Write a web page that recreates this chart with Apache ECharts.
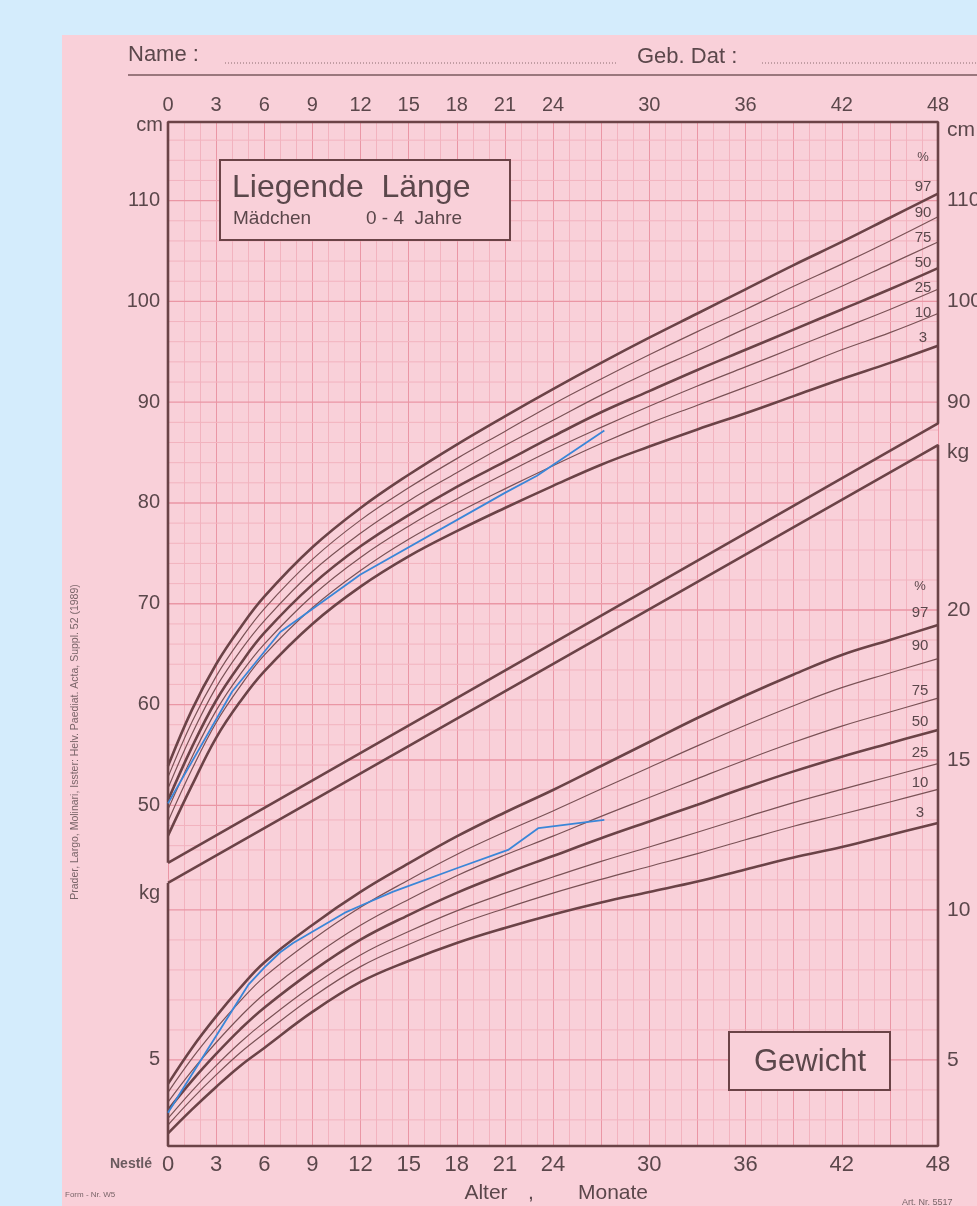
<!DOCTYPE html>
<html><head><meta charset="utf-8">
<script src="https://cdn.jsdelivr.net/npm/echarts@6/dist/echarts.min.js"></script>
<style>
html,body{margin:0;padding:0;background:#d4ecfc;width:977px;height:1206px;overflow:hidden}
#paper{position:absolute;left:62px;top:35px;width:915px;height:1171px;background:#f9d0d9}
#chart{position:absolute;left:0;top:0;width:977px;height:1206px}
</style></head><body>
<div id="paper"></div><div id="chart"></div>
<script>
// ---- data ----
const months = [0, 1.5, 3, 4.5, 6, 9, 12, 15, 18, 21, 24, 27, 30, 33, 36, 39, 42, 45, 48];
const percentiles = ['97', '90', '75', '50', '25', '10', '3'];
// Liegende Länge (cm)
const lengthP97 = [53.9, 59.5, 64.0, 67.6, 70.7, 75.6, 79.5, 82.8, 85.8, 88.6, 91.3, 93.9, 96.4, 98.8, 101.2, 103.6, 105.9, 108.3, 110.7];
const lengthP90 = [52.8, 58.3, 62.8, 66.4, 69.5, 74.4, 78.3, 81.5, 84.4, 87.1, 89.8, 92.3, 94.7, 97.0, 99.2, 101.5, 103.7, 106.0, 108.4];
const lengthP75 = [51.7, 57.1, 61.7, 65.3, 68.3, 73.2, 77.0, 80.2, 83.0, 85.7, 88.2, 90.7, 93.0, 95.1, 97.3, 99.4, 101.5, 103.7, 105.9];
const lengthP50 = [50.5, 55.8, 60.4, 64.0, 67.1, 71.9, 75.7, 78.8, 81.6, 84.1, 86.6, 89.0, 91.1, 93.2, 95.2, 97.2, 99.2, 101.2, 103.3];
const lengthP25 = [49.6, 54.8, 59.4, 63.0, 66.0, 70.8, 74.6, 77.7, 80.4, 82.9, 85.3, 87.5, 89.6, 91.6, 93.5, 95.4, 97.3, 99.2, 101.2];
const lengthP10 = [48.4, 53.6, 58.2, 61.8, 64.9, 69.6, 73.3, 76.4, 79.0, 81.4, 83.7, 85.9, 87.9, 89.7, 91.5, 93.3, 95.2, 96.9, 98.8];
const lengthP3  = [47.0, 52.0, 56.7, 60.3, 63.3, 68.0, 71.7, 74.7, 77.2, 79.5, 81.7, 83.8, 85.6, 87.3, 88.9, 90.6, 92.3, 93.9, 95.6];
// Gewicht (kg)
const weightP97 = [4.2, 5.4, 6.45, 7.4, 8.25, 9.5, 10.6, 11.55, 12.45, 13.25, 14.0, 14.8, 15.6, 16.4, 17.15, 17.85, 18.5, 19.0, 19.5];
const weightP90 = [3.92, 5.05, 6.05, 6.96, 7.77, 9.01, 10.09, 11.0, 11.85, 12.6, 13.3, 14.03, 14.75, 15.47, 16.16, 16.81, 17.41, 17.9, 18.38];
const weightP75 = [3.59, 4.64, 5.58, 6.44, 7.2, 8.43, 9.49, 10.35, 11.14, 11.83, 12.46, 13.12, 13.75, 14.38, 15.0, 15.59, 16.13, 16.6, 17.06];
const weightP50 = [3.33, 4.31, 5.2, 6.02, 6.74, 7.96, 9.01, 9.83, 10.57, 11.21, 11.8, 12.39, 12.95, 13.51, 14.08, 14.62, 15.11, 15.56, 16.0];
const weightP25 = [3.05, 3.97, 4.81, 5.58, 6.26, 7.47, 8.5, 9.28, 9.97, 10.56, 11.1, 11.62, 12.1, 12.59, 13.09, 13.58, 14.02, 14.45, 14.88];
const weightP10 = [2.83, 3.7, 4.5, 5.24, 5.88, 7.09, 8.11, 8.85, 9.5, 10.05, 10.56, 11.02, 11.45, 11.88, 12.34, 12.79, 13.19, 13.6, 14.02];
const weightP3  = [2.55, 3.35, 4.1, 4.8, 5.4, 6.6, 7.6, 8.3, 8.9, 9.4, 9.85, 10.25, 10.6, 10.95, 11.35, 11.75, 12.1, 12.5, 12.9];
// patient (blue)
const patientLengthMonths = [0, 4, 7, 12, 21, 23, 27.2];
const patientLength = [50.2, 61.3, 67.2, 72.9, 81.0, 82.7, 87.2];
const patientWeightMonths = [0, 0.85, 5, 6, 7, 7.8, 11, 12, 14, 18, 21.2, 23.1, 27.2];
const patientWeight = [3.24, 3.97, 7.5, 8.08, 8.59, 8.9, 9.9, 10.14, 10.6, 11.39, 12.0, 12.73, 13.0];
// ticks
const xTickLabels = [0, 3, 6, 9, 12, 15, 18, 21, 24, 30, 36, 42, 48];
const cmLeftTicks = [50, 60, 70, 80, 90, 100, 110];
const cmRightTicks = [90, 100, 110];
const kgLeftTicks = [5];
const kgRightTicks = [5, 10, 15, 20];
// panel outlines: length panel (cm) and weight panel (kg)
const cmRange = [16.2, 117.8];
const kgRange = [2.13, 36.27];
const lengthPanelBorder = [[0, 44.3], [0, 117.8], [48, 117.8], [48, 87.9], [0, 44.3]];
const weightPanelBorder = [[0, 10.9], [0, 2.13], [48, 2.13], [48, 25.5], [0, 10.9]];
const bandTopInKg = [11.57, 26.22]; // upper diagonal read on the kg scale

// ---- styling ----
const DARK = '#6b4347', THIN = '#7a5256', TXT = '#5b474b';
const GMAJ = '#ea96a5', GMIN = '#f2b3bf';
const PAPER = '#f9d0d9', BLUE = '#3a86d8';
const FONT = "'Liberation Sans', Arial, sans-serif";
const NARROW = "'Liberation Sans Narrow', 'Liberation Sans', Arial, sans-serif";

const cmGrid = []; for (let c = 18; c <= 116; c += 2) cmGrid.push([0, c]);
const kgGrid = []; for (let k = 3; k <= 36; k++) kgGrid.push([0, k]);

function gridLine(kind) {
  return function (params, api) {
    const v = api.value(1);
    let m0, m1, major;
    if (kind === 'cm') {
      const a = lengthPanelBorder[0][1], b = lengthPanelBorder[3][1];
      m0 = 0; m1 = Math.min(48, (v - a) / (b - a) * 48); major = v % 10 === 0;
    } else {
      m0 = Math.max(0, (v - bandTopInKg[0]) / (bandTopInKg[1] - bandTopInKg[0]) * 48); m1 = 48; major = v % 5 === 0;
    }
    if (m1 <= m0) return null;
    const p0 = api.coord([m0, v]), p1 = api.coord([m1, v]);
    return { type: 'line', silent: true,
      shape: { x1: p0[0], y1: p0[1], x2: p1[0], y2: p1[1] },
      style: { stroke: major ? GMAJ : GMIN, lineWidth: major ? 1.3 : 1 } };
  };
}

const thick = { '97': true, '50': true, '3': true };
const lengthSets = [lengthP97, lengthP90, lengthP75, lengthP50, lengthP25, lengthP10, lengthP3];
const weightSets = [weightP97, weightP90, weightP75, weightP50, weightP25, weightP10, weightP3];
function curve(vals, p, yIdx, name) {
  return { type: 'line', name: name + ' P' + p, yAxisIndex: yIdx, smooth: 0.4, symbol: 'none', silent: true, z: 3,
    data: months.map((m, i) => [m, vals[i]]),
    lineStyle: { color: thick[p] ? DARK : THIN, width: thick[p] ? 2.6 : 1.2 } };
}

const series = [
  { type: 'custom', yAxisIndex: 0, z: 1, silent: true, renderItem: gridLine('cm'), data: cmGrid, encode: { x: 0, y: 1 }, clip: false },
  { type: 'custom', yAxisIndex: 1, z: 1, silent: true, renderItem: gridLine('kg'), data: kgGrid, encode: { x: 0, y: 1 }, clip: false },
  { type: 'line', yAxisIndex: 0, data: lengthPanelBorder, symbol: 'none', silent: true, clip: false, z: 5,
    lineStyle: { color: DARK, width: 2.6 } },
  { type: 'line', yAxisIndex: 1, data: weightPanelBorder, symbol: 'none', silent: true, clip: false, z: 5,
    lineStyle: { color: DARK, width: 2.6 } }
];
percentiles.forEach((p, i) => series.push(curve(lengthSets[i], p, 0, 'Länge')));
percentiles.forEach((p, i) => series.push(curve(weightSets[i], p, 1, 'Gewicht')));
series.push({ type: 'line', yAxisIndex: 0, symbol: 'none', silent: true, z: 6,
  data: patientLengthMonths.map((m, i) => [m, patientLength[i]]), lineStyle: { color: BLUE, width: 1.8 } });
series.push({ type: 'line', yAxisIndex: 1, symbol: 'none', silent: true, z: 6,
  data: patientWeightMonths.map((m, i) => [m, patientWeight[i]]), lineStyle: { color: BLUE, width: 1.8 } });

function yAx(range, pos, ticks) {
  return { type: 'value', min: range[0], max: range[1], position: pos,
    axisLine: { show: false }, axisTick: { show: false }, splitLine: { show: false },
    axisLabel: { customValues: ticks, color: TXT, fontSize: pos === 'left' ? 20 : 21, fontFamily: FONT, margin: pos === 'left' ? 8 : 9 } };
}
function xAx(pos, size, fam) {
  return { type: 'value', min: 0, max: 48, interval: 1, position: pos,
    axisLine: { show: false }, axisTick: { show: false },
    splitLine: { show: pos === 'bottom', lineStyle: { color: [GMAJ, GMIN, GMIN], width: 1 } },
    axisLabel: { customValues: xTickLabels, color: TXT, fontSize: size, fontFamily: fam, margin: pos === 'bottom' ? 8 : 7 } };
}

const pctLen = [['%', 157], ['97', 187], ['90', 213], ['75', 238], ['50', 263], ['25', 288], ['10', 313], ['3', 338]];
const pctWt = [['%', 586], ['97', 613], ['90', 646], ['75', 691], ['50', 722], ['25', 753], ['10', 783], ['3', 813]];
function txt(text, x, y, size, opt) {
  opt = opt || {};
  return { type: 'text', x: x, y: y, z: 20, rotation: opt.rot || 0, silent: true,
    style: { text: text, fill: opt.color || TXT, font: (opt.weight || 'normal') + ' ' + size + 'px ' + (opt.fam || FONT),
      textAlign: opt.align || 'left', textVerticalAlign: 'middle' } };
}
const graphics = [
  txt('Name :', 128, 55, 22),
  { type: 'line', z: 20, silent: true, shape: { x1: 225, y1: 63, x2: 618, y2: 63 }, style: { stroke: '#8a6a6e', lineWidth: 1, lineDash: [1, 2] } },
  txt('Geb. Dat :', 637, 57, 22),
  { type: 'line', z: 20, silent: true, shape: { x1: 762, y1: 63, x2: 977, y2: 63 }, style: { stroke: '#8a6a6e', lineWidth: 1, lineDash: [1, 2] } },
  { type: 'line', z: 20, silent: true, shape: { x1: 128, y1: 75, x2: 977, y2: 75 }, style: { stroke: '#7a5a5e', lineWidth: 1.5 } },
  txt('cm', 163, 125, 20, { align: 'right' }),
  txt('kg', 160, 893, 20, { align: 'right' }),
  txt('cm', 947, 130, 21),
  txt('kg', 947, 452, 21),
  { type: 'rect', z: 15, silent: true, shape: { x: 220, y: 160, width: 290, height: 80 }, style: { fill: PAPER, stroke: DARK, lineWidth: 2 } },
  txt('Liegende  Länge', 232, 188, 32),
  txt('Mädchen', 233, 219, 19),
  txt('0 - 4  Jahre', 366, 219, 19),
  { type: 'rect', z: 15, silent: true, shape: { x: 729, y: 1032, width: 161, height: 58 }, style: { fill: PAPER, stroke: DARK, lineWidth: 2 } },
  txt('Gewicht', 810, 1062, 31, { align: 'center' }),
  txt('Alter', 486, 1193, 21, { align: 'center', fam: NARROW }),
  txt(',', 531, 1193, 21, { align: 'center', fam: NARROW }),
  txt('Monate', 613, 1193, 21, { align: 'center', fam: NARROW }),
  txt('Prader, Largo, Molinari, Isster: Helv. Paediat. Acta, Suppl. 52 (1989)', 75, 742, 10.5, { align: 'center', rot: Math.PI / 2, fam: NARROW, color: '#7a6569' }),
  txt('Nestlé', 131, 1164, 14, { align: 'center', weight: 'bold', color: '#6a5a5e' }),
  txt('Form - Nr. W5', 65, 1195, 8, { color: '#7a6569', fam: NARROW }),
  txt('Art. Nr. 5517', 902, 1203, 9, { color: '#7a6569', fam: NARROW })
];
pctLen.forEach(p => graphics.push(txt(p[0], 923, p[1], p[0] === '%' ? 13 : 15, { align: 'center', fam: NARROW })));
pctWt.forEach(p => graphics.push(txt(p[0], 920, p[1], p[0] === '%' ? 13 : 15, { align: 'center', fam: NARROW })));

const chart = echarts.init(document.getElementById('chart'), null, { renderer: 'canvas' });
chart.setOption({
  animation: false,
  backgroundColor: 'transparent',
  grid: { left: 168, right: 39, top: 122, bottom: 60, containLabel: false, outerBoundsMode: 'none' },
  xAxis: [xAx('bottom', 22, NARROW), xAx('top', 20, FONT)],
  yAxis: [yAx(cmRange, 'left', cmLeftTicks), yAx(kgRange, 'left', kgLeftTicks), yAx(cmRange, 'right', cmRightTicks), yAx(kgRange, 'right', kgRightTicks)],
  series: series,
  graphic: graphics
});
</script></body></html>
